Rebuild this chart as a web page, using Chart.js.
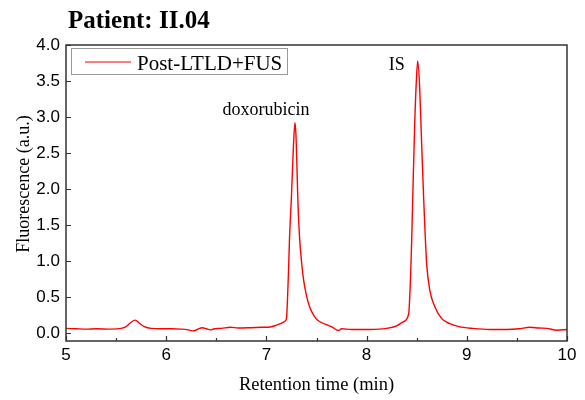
<!DOCTYPE html>
<html>
<head>
<meta charset="utf-8">
<script src="https://cdn.jsdelivr.net/npm/chart.js@4"></script>
<style>
  html, body { margin: 0; padding: 0; background: #fff; }
  canvas { display: block; }
</style>
</head>
<body>
<canvas id="chromChart" width="585" height="400"></canvas>
<script>
// retention time (min) and fluorescence (a.u.)
const retentionTime = [
  5.00, 5.10, 5.20, 5.30, 5.45, 5.55, 5.60, 5.65, 5.69, 5.73, 5.78, 5.85, 5.95,
  6.05, 6.15, 6.22, 6.27, 6.31, 6.36, 6.40, 6.44, 6.48, 6.55, 6.64, 6.72, 6.85,
  6.95, 7.04, 7.10, 7.14, 7.18, 7.20, 7.21, 7.22, 7.23, 7.25, 7.27, 7.285, 7.295,
  7.305, 7.315, 7.33, 7.35, 7.37, 7.40, 7.43, 7.48, 7.53, 7.61, 7.66, 7.72, 7.75,
  7.85, 8.03, 8.20, 8.30, 8.37, 8.42, 8.44, 8.45, 8.46, 8.48, 8.50, 8.51, 8.53,
  8.55, 8.57, 8.585, 8.60, 8.63, 8.68, 8.75, 8.83, 8.92, 9.06, 9.23, 9.40, 9.52,
  9.63, 9.72, 9.80, 9.90, 10.00
];
const fluorescence = [
  0.065, 0.060, 0.055, 0.060, 0.055, 0.065, 0.090, 0.150, 0.180, 0.140, 0.090, 0.065, 0.060,
  0.060, 0.055, 0.045, 0.030, 0.050, 0.075, 0.060, 0.045, 0.060, 0.065, 0.080, 0.070, 0.075,
  0.080, 0.085, 0.110, 0.130, 0.160, 0.200, 0.450, 0.830, 1.290, 1.900, 2.600, 2.920, 2.750,
  2.300, 1.800, 1.350, 1.000, 0.750, 0.520, 0.370, 0.230, 0.160, 0.110, 0.080, 0.035, 0.060,
  0.050, 0.050, 0.065, 0.100, 0.160, 0.270, 0.830, 1.290, 1.850, 2.900, 3.600, 3.780, 3.400,
  2.600, 1.850, 1.350, 0.950, 0.600, 0.370, 0.200, 0.130, 0.090, 0.065, 0.050, 0.050, 0.060,
  0.080, 0.070, 0.065, 0.040, 0.050
];

const xTicks = [5, 6, 7, 8, 9, 10];
const xMinorTicks = [5.5, 6.5, 7.5, 8.5, 9.5];
const yTicks = [0, 0.5, 1, 1.5, 2, 2.5, 3, 3.5, 4];

const peakLabels = [
  { text: 'doxorubicin', x: 7.285, y: 2.92 },
  { text: 'IS', x: 8.51, y: 3.78 }
];

const seriesName = 'Post-LTLD+FUS';
const chartTitle = 'Patient: II.04';
const xTitle = 'Retention time (min)';
const yTitle = 'Fluorescence (a.u.)';

const serif = '"Liberation Serif", "Times New Roman", serif';
const sans = '"Liberation Sans", Arial, sans-serif';
const axisColor = '#333';

const extras = {
  id: 'extras',
  afterDraw(chart) {
    const { ctx, chartArea: a, scales: { x, y } } = chart;
    ctx.save();

    // frame
    ctx.strokeStyle = axisColor;
    ctx.lineWidth = 1.5;
    ctx.strokeRect(a.left, a.top, a.right - a.left, a.bottom - a.top);

    // inward ticks
    ctx.lineWidth = 1.2;
    ctx.beginPath();
    xTicks.forEach(v => {
      const px = Math.round(x.getPixelForValue(v)) + 0.5;
      ctx.moveTo(px, a.bottom); ctx.lineTo(px, a.bottom - 5);
    });
    xMinorTicks.forEach(v => {
      const px = Math.round(x.getPixelForValue(v)) + 0.5;
      ctx.moveTo(px, a.bottom); ctx.lineTo(px, a.bottom - 3);
    });
    yTicks.forEach(v => {
      const py = Math.round(y.getPixelForValue(v)) + 0.5;
      ctx.moveTo(a.left, py); ctx.lineTo(a.left + 5, py);
    });
    ctx.stroke();

    // legend box
    ctx.strokeStyle = '#999';
    ctx.lineWidth = 1;
    ctx.strokeRect(71.5, 48.5, 216, 26);
    ctx.strokeStyle = '#ff5050';
    ctx.lineWidth = 1.5;
    ctx.beginPath();
    ctx.moveTo(85, 62); ctx.lineTo(131, 62);
    ctx.stroke();
    ctx.fillStyle = '#000';
    ctx.font = '21px ' + serif;
    ctx.textAlign = 'left';
    ctx.textBaseline = 'alphabetic';
    ctx.fillText(seriesName, 137, 70);

    // peak labels
    ctx.font = '18px ' + serif;
    ctx.textAlign = 'center';
    peakLabels.forEach(p => {
      const px = x.getPixelForValue(p.x);
      const py = y.getPixelForValue(p.y);
      if (p.text === 'IS') ctx.fillText(p.text, px - 21, py + 9);
      else ctx.fillText(p.text, px - 29, py - 8);
    });

    // title
    ctx.font = 'bold 25px ' + serif;
    ctx.textAlign = 'left';
    ctx.fillText(chartTitle, 68, 28);

    // axis titles
    ctx.font = '18.5px ' + serif;
    ctx.textAlign = 'center';
    ctx.fillText(xTitle, (a.left + a.right) / 2, 390);
    ctx.font = '18px ' + serif;
    ctx.translate(29, 184);
    ctx.rotate(-Math.PI / 2);
    ctx.fillText(yTitle, 0, 0);

    ctx.restore();
  }
};

new Chart(document.getElementById('chromChart'), {
  type: 'line',
  data: {
    datasets: [{
      label: seriesName,
      data: retentionTime.map((t, i) => ({ x: t, y: fluorescence[i] })),
      borderColor: '#ff0000',
      borderWidth: 1.4,
      pointRadius: 0,
      cubicInterpolationMode: 'monotone',
      fill: false
    }]
  },
  options: {
    responsive: false,
    animation: false,
    layout: { padding: { top: 45, right: 18, left: 0, bottom: 0 } },
    plugins: { legend: { display: false }, tooltip: { enabled: false }, title: { display: false } },
    scales: {
      x: {
        type: 'linear', min: 5, max: 10,
        grid: { display: false, drawTicks: false },
        border: { display: false },
        afterBuildTicks: s => { s.ticks = xTicks.map(v => ({ value: v })); },
        afterFit: s => { s.height = 59; },
        ticks: {
          color: '#000', padding: 4, maxRotation: 0,
          font: { family: sans, size: 17 },
          callback: v => String(v)
        }
      },
      y: {
        type: 'linear', min: -0.11, max: 4.0,
        grid: { display: false, drawTicks: false },
        border: { display: false },
        afterBuildTicks: s => { s.ticks = yTicks.map(v => ({ value: v })); },
        afterFit: s => { s.width = 66; },
        ticks: {
          color: '#000', padding: 6,
          font: { family: sans, size: 17 },
          callback: v => Number(v).toFixed(1)
        }
      }
    }
  },
  plugins: [extras]
});
</script>
</body>
</html>
